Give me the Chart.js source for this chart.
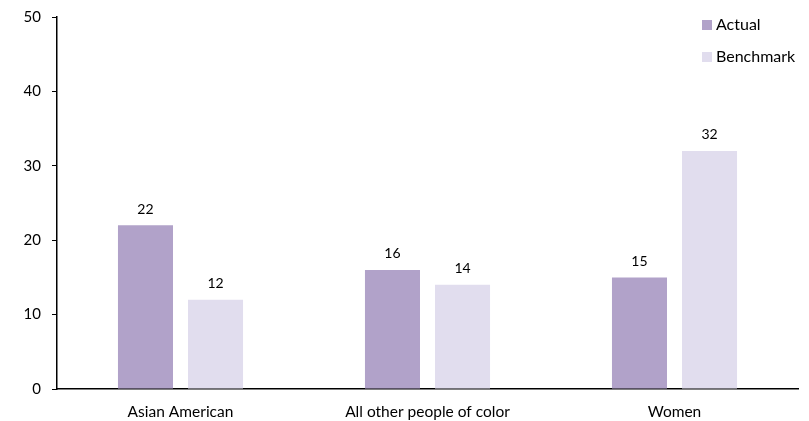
<!DOCTYPE html>
<html>
<head>
<meta charset="utf-8">
<script src="https://cdn.jsdelivr.net/npm/chart.js@4/dist/chart.umd.min.js"></script>
<style>
  html, body { margin: 0; padding: 0; background: #fff; }
  #wrap { width: 809px; height: 421px; }
</style>
</head>
<body>
<div id="wrap"><canvas id="groupChart" width="809" height="421"></canvas></div>
<script>
var categories = ["Asian American", "All other people of color", "Women"];
var actualValues = [22, 16, 15];
var benchmarkValues = [12, 14, 32];
var seriesNames = ["Actual", "Benchmark"];
var yTicks = [0, 10, 20, 30, 40, 50];

var FONT = "Lato, 'Open Sans', sans-serif";

// value labels above each bar
var barLabels = {
    id: 'barLabels',
    afterDatasetsDraw: function(chart) {
        var ctx = chart.ctx;
        ctx.save();
        ctx.font = "14px " + FONT;
        ctx.fillStyle = '#000';
        ctx.textAlign = 'center';
        ctx.textBaseline = 'middle';
        chart.data.datasets.forEach(function(ds, i) {
            chart.getDatasetMeta(i).data.forEach(function(bar, j) {
                ctx.fillText(ds.data[j], bar.x, bar.y - 16);
            });
        });
        ctx.restore();
    }
};

// stacked legend in the upper right corner
var cornerLegend = {
    id: 'cornerLegend',
    afterDraw: function(chart) {
        var ctx = chart.ctx;
        ctx.save();
        ctx.font = "16px " + FONT;
        ctx.textBaseline = 'middle';
        chart.data.datasets.forEach(function(ds, i) {
            var y = 25 + i * 32;
            ctx.fillStyle = ds.backgroundColor;
            ctx.fillRect(702, y - 5, 10, 10);
            ctx.fillStyle = '#000';
            ctx.fillText(ds.label, 716, y);
        });
        ctx.restore();
    }
};

var ctx = document.getElementById('groupChart').getContext('2d');
var myChart = new Chart(ctx, {
    type: 'bar',
    data: {
        labels: categories,
        datasets: [{
            label: seriesNames[0],
            backgroundColor: "#b1a2c9",
            data: actualValues
        }, {
            label: seriesNames[1],
            backgroundColor: "#e1ddee",
            data: benchmarkValues
        }]
    },
    options: {
        responsive: false,
        animation: false,
        categoryPercentage: 0.567,
        barPercentage: 0.786,
        layout: { padding: { top: 17, right: 11, left: 0, bottom: 0 } },
        plugins: {
            legend: { display: false },
            tooltip: { enabled: false }
        },
        scales: {
            x: {
                grid: { display: false, tickLength: 0 },
                border: { display: true, color: '#000', width: 1.5 },
                ticks: { color: '#000', font: { family: FONT, size: 15.5 }, padding: 14, maxRotation: 0 },
                afterFit: function(scale) {
                    scale.height = 32;
                    scale.paddingLeft = 0;
                    scale.paddingRight = 0;
                }
            },
            y: {
                min: 0,
                max: 50,
                afterBuildTicks: function(scale) {
                    scale.ticks = yTicks.map(function(v) { return { value: v }; });
                },
                grid: { drawOnChartArea: false, drawTicks: true, tickLength: 5, color: '#000' },
                border: { display: true, color: '#000', width: 1.5 },
                ticks: { color: '#000', font: { family: FONT, size: 15 }, padding: 11 },
                afterFit: function(scale) {
                    scale.width = 57;
                    scale.paddingTop = 0;
                    scale.paddingBottom = 0;
                }
            }
        }
    },
    plugins: [barLabels, cornerLegend]
});
</script>
</body>
</html>
